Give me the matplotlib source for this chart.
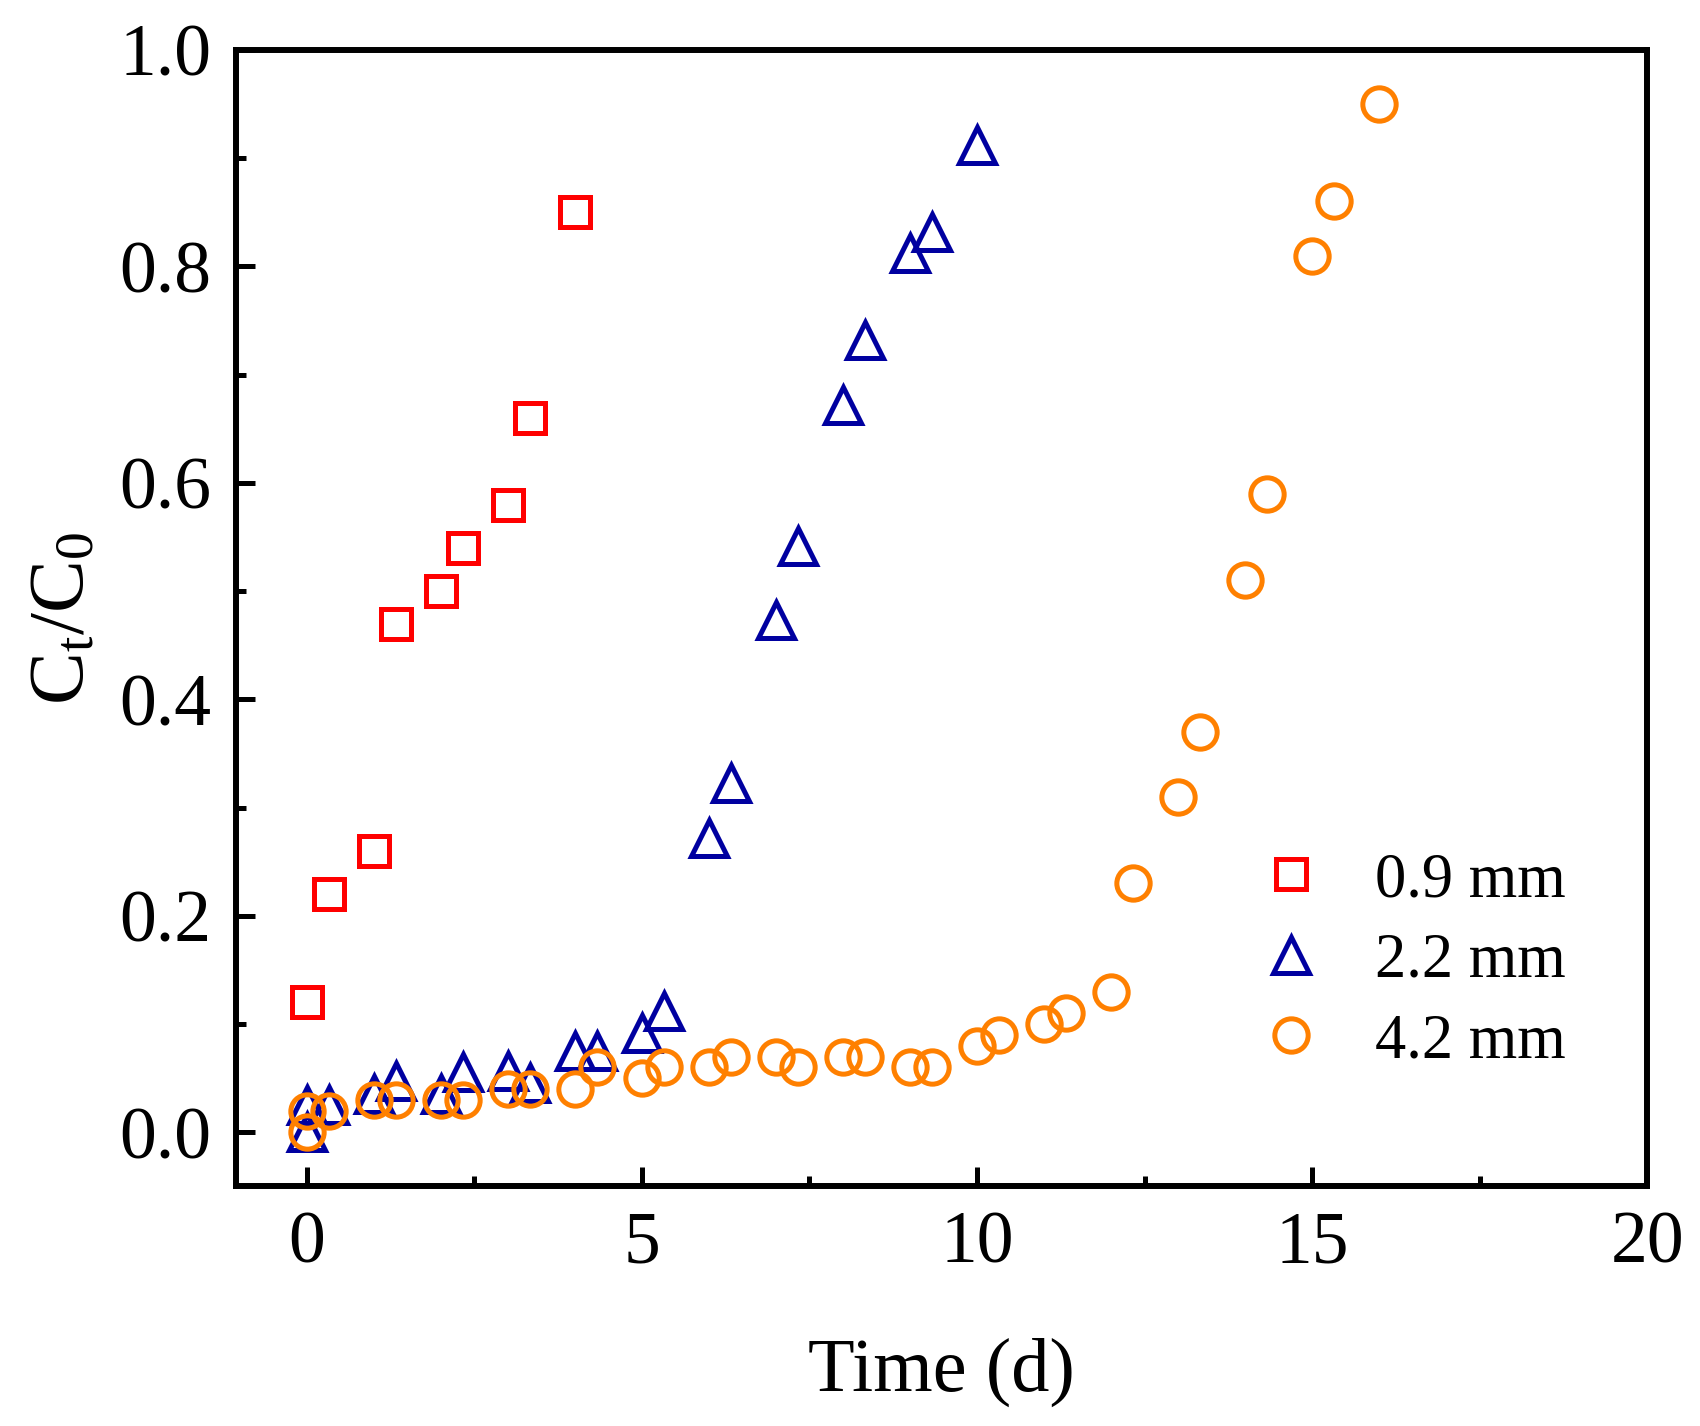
import matplotlib
matplotlib.use("Agg")
import matplotlib.pyplot as plt
from matplotlib.ticker import MultipleLocator

# 0.9 mm
sq_x = [0, 0.33, 1, 1.33, 2, 2.33, 3, 3.33, 4]
sq_y = [0.12, 0.22, 0.26, 0.47, 0.50, 0.54, 0.58, 0.66, 0.85]

# 2.2 mm
tri_x = [0, 0, 0.33, 1, 1.33, 2, 2.33, 3, 3.33, 4, 4.33, 5, 5.33,
         6, 6.33, 7, 7.33, 8, 8.33, 9, 9.33, 10]
tri_y = [0.0, 0.025, 0.025, 0.035, 0.047, 0.035, 0.056, 0.057, 0.046, 0.075,
         0.075, 0.092, 0.112, 0.272, 0.323, 0.473, 0.542, 0.672, 0.732, 0.812,
         0.832, 0.912]

# 4.2 mm
circ_x = [0, 0, 0.33, 1, 1.33, 2, 2.33, 3, 3.33, 4, 4.33, 5, 5.33, 6, 6.33,
          7, 7.33, 8, 8.33, 9, 9.33, 10, 10.33, 11, 11.33, 12, 12.33, 13,
          13.33, 14, 14.33, 15, 15.33, 16]
circ_y = [0.0, 0.02, 0.02, 0.03, 0.03, 0.03, 0.03, 0.04, 0.04, 0.04, 0.06,
          0.05, 0.06, 0.06, 0.07, 0.07, 0.06, 0.07, 0.07, 0.06, 0.06, 0.08,
          0.09, 0.10, 0.11, 0.13, 0.23, 0.31, 0.37, 0.51, 0.59, 0.81, 0.86,
          0.95]

labels = ["0.9 mm", "2.2 mm", "4.2 mm"]

plt.rcParams['font.family'] = ['Liberation Serif', 'DejaVu Serif']
plt.rcParams['mathtext.fontset'] = 'custom'
plt.rcParams['mathtext.rm'] = 'Liberation Serif'
plt.rcParams['mathtext.it'] = 'Liberation Serif:italic'

fig = plt.figure(figsize=(17, 14.26), dpi=100)
ax = fig.add_axes([0.139, 0.168, 0.830, 0.797])

ax.plot(sq_x, sq_y, ls='none', marker='s', ms=21, mew=3.6,
        mfc='none', mec='#ff0000', label=labels[0])
ax.plot(tri_x, tri_y, ls='none', marker='^', ms=26, mew=3.6,
        mfc='none', mec='#0000a0', label=labels[1])
ax.plot(circ_x, circ_y, ls='none', marker='o', ms=24, mew=3.6,
        mfc='none', mec='#ff8000', label=labels[2])

ax.set_xlim(-1.05, 20)
ax.set_ylim(-0.05, 1.0)
ax.xaxis.set_major_locator(MultipleLocator(5))
ax.xaxis.set_minor_locator(MultipleLocator(2.5))
ax.yaxis.set_major_locator(MultipleLocator(0.2))
ax.yaxis.set_minor_locator(MultipleLocator(0.1))
ax.yaxis.set_major_formatter(matplotlib.ticker.FormatStrFormatter('%.1f'))

ax.tick_params(which='both', direction='in', top=False, right=False,
               labelsize=53, width=3.6)
ax.tick_params(which='major', length=14)
ax.tick_params(which='minor', length=7)
ax.tick_params(axis='x', which='major', pad=18)
ax.tick_params(axis='y', which='major', pad=18)
for sp in ax.spines.values():
    sp.set_linewidth(4.3)

ax.set_xlabel('Time (d)', fontsize=55, labelpad=42)
ax.set_ylabel(r'C$_\mathregular{t}$/C$_\mathregular{0}$', fontsize=57, labelpad=14)

ax.legend(loc='upper left', bbox_to_anchor=(0.725, 0.294), frameon=False,
          fontsize=45, handlelength=1.0, handletextpad=0.85,
          labelspacing=0.36, borderpad=0, borderaxespad=0)

fig.savefig('out.png', dpi=100, facecolor='white')
